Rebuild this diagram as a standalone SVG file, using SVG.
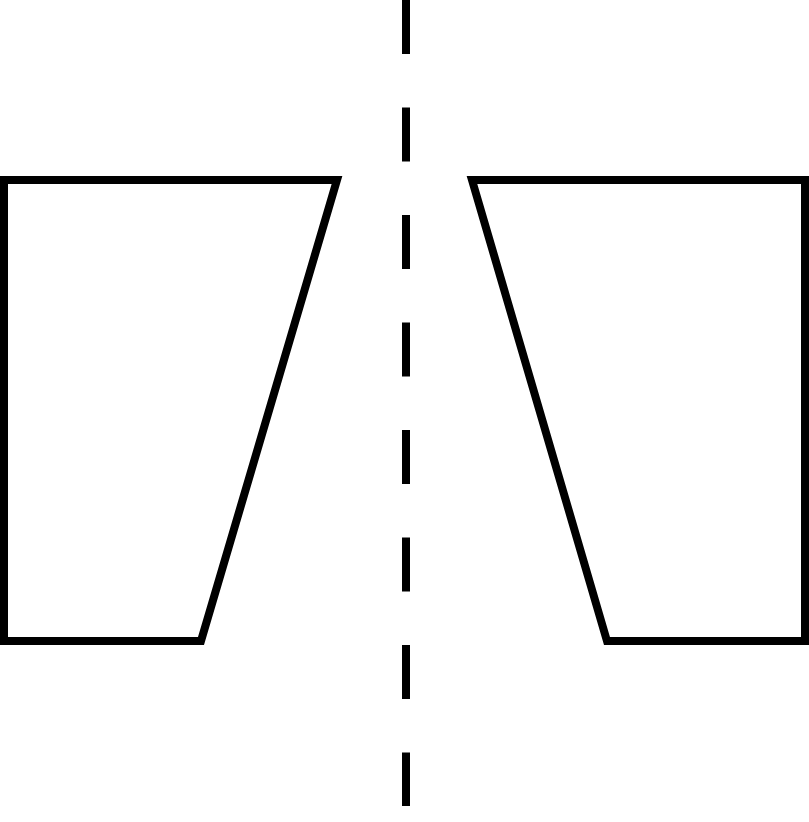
<svg xmlns="http://www.w3.org/2000/svg" width="809" height="822" viewBox="0 0 809 822">
<style>
.s{fill:none;stroke:#000;stroke-width:8;stroke-linejoin:miter;stroke-linecap:butt}
</style>
<rect width="809" height="822" fill="#fff"/>
<g id="left-block"><path class="s" d="M4,180 H337 L201,641 H4 Z"/></g>
<g id="right-block"><path class="s" d="M805,180 H472 L607,641 H805 Z"/></g>
<g id="connectors"><line x1="406" y1="0" x2="406" y2="806" stroke="#000" stroke-width="8" stroke-dasharray="54 53.5"/></g>
</svg>
